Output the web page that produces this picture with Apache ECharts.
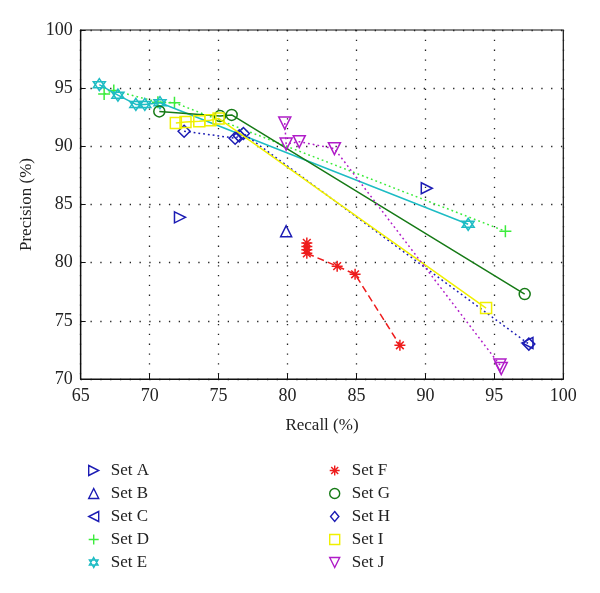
<!DOCTYPE html>
<html>
<head>
<meta charset="utf-8">
<script src="https://cdn.jsdelivr.net/npm/echarts@6/dist/echarts.min.js"></script>
<style>html,body{margin:0;padding:0;background:#fff}#c{width:600px;height:593px}</style>
</head>
<body>
<div id="c"></div>
<script>
// Data: [recall, precision]
var setA = [[72.2, 83.9], [90.1, 86.4]];
var setB = [[79.9, 82.7]];
var setC = [[97.4, 73.1]];
var setD = [[66.7, 94.5], [67.4, 94.8], [70.6, 93.8], [71.8, 93.75], [95.8, 82.7]];
var setE = [[66.35, 95.3], [67.7, 94.4], [69.0, 93.6], [69.65, 93.6], [70.75, 93.75], [93.1, 83.3]];
var setF = [[81.4, 81.7], [81.4, 81.4], [81.4, 81.1], [81.4, 80.8], [83.6, 79.7], [84.9, 79.0], [88.15, 72.9]];
var setG = [[70.7, 93.0], [75.1, 92.6], [75.95, 92.7], [97.2, 77.3]];
var setH = [[72.5, 91.3], [76.2, 90.7], [76.5, 90.9], [76.8, 91.1], [97.5, 73.0]];
var setI = [[71.9, 92.0], [72.6, 92.1], [73.6, 92.15], [74.4, 92.25], [75.0, 92.4], [94.4, 76.1]];
var setJ = [[79.8, 92.0], [79.9, 90.2], [80.85, 90.4], [83.4, 89.8], [95.4, 71.2], [95.5, 70.9]];
var names = ['Set A','Set B','Set C','Set D','Set E','Set F','Set G','Set H','Set I','Set J'];
var xTicks = [65, 70, 75, 80, 85, 90, 95, 100];
var yTicks = [70, 75, 80, 85, 90, 95, 100];

var blue = '#1c1cb4', green = '#3cec3c', cyan = '#1ebcc4', red = '#ee1c1c', dgreen = '#167a16', yellow = '#f0f000', purple = '#b01cc8';
var sym = {
  right: 'path://M0,0L10,5L0,10Z',
  up: 'path://M5,0L10,10L0,10Z',
  left: 'path://M10,0L0,5L10,10Z',
  down: 'path://M0,0L10,0L5,10Z',
  plus: 'path://M5,0L5,10M0,5L10,5',
  star: 'path://M5,0L9.33,7.5L0.67,7.5Z M5,10L0.67,2.5L9.33,2.5Z',
  ast: 'path://M5,0L5,10M0,5L10,5M1.5,1.5L8.5,8.5M1.5,8.5L8.5,1.5',
  diamond: 'path://M5,0L10,6L5,12L0,6Z',
  square: 'path://M0,0L10,0L10,10L0,10Z',
  circle: 'circle'
};
var defs = [
  {d: setA, c: blue, s: sym.right, size: 11, line: null},
  {d: setB, c: blue, s: sym.up, size: 11, line: null},
  {d: setC, c: blue, s: sym.left, size: 11, line: null},
  {d: setD, c: green, s: sym.plus, size: 12, line: [1.8, 3]},
  {d: setE, c: cyan, s: sym.star, size: 12, line: 'solid'},
  {d: setF, c: red, s: sym.ast, size: 11, line: [7, 4]},
  {d: setG, c: dgreen, s: sym.circle, size: 11, line: 'solid'},
  {d: setH, c: blue, s: sym.diamond, size: 12, line: [1.8, 3]},
  {d: setI, c: yellow, s: sym.square, size: 11, line: 'solid'},
  {d: setJ, c: purple, s: sym.down, size: 12, line: [1.8, 3]}
];
var series = defs.map(function (o, i) {
  return {
    name: names[i], type: 'line', data: o.d, symbol: o.s, symbolSize: o.size,
    showSymbol: true, animation: false,
    itemStyle: {color: 'transparent', borderColor: o.c, borderWidth: 1.5},
    lineStyle: o.line ? {color: o.c, width: 1.5, type: o.line} : {opacity: 0, width: 0},
    z: 2 + i
  };
});
function legendData(from, to) {
  var arr = [];
  for (var i = from; i < to; i++) {
    arr.push({name: names[i], icon: defs[i].s,
      itemStyle: {color: 'transparent', borderColor: defs[i].c, borderWidth: 1.4}});
  }
  return arr;
}
var fontFam = '"Liberation Serif", "DejaVu Serif", serif';
var legendCommon = {
  orient: 'vertical', top: 457, itemWidth: 10, itemHeight: 10, itemGap: 6,
  selectedMode: false,
  textStyle: {fontFamily: fontFam, fontSize: 17, color: '#222', lineHeight: 17, padding: [0, 0, 0, 7]}
};
var chart = echarts.init(document.getElementById('c'), null, {renderer: 'canvas'});
chart.setOption({
  animation: false,
  backgroundColor: '#fff',
  grid: {left: 80.7, right: 36.7, top: 30, bottom: 214, show: true, borderColor: '#111', borderWidth: 1.2, backgroundColor: 'transparent'},
  legend: [
    Object.assign({left: 83, data: legendData(0, 5)}, legendCommon),
    Object.assign({left: 324, data: legendData(5, 10)}, legendCommon)
  ],
  xAxis: {
    type: 'value', min: xTicks[0], max: xTicks[xTicks.length - 1], interval: 5,
    name: 'Recall (%)', nameLocation: 'middle', nameGap: 38,
    nameTextStyle: {fontFamily: fontFam, fontSize: 17, color: '#222'},
    axisLine: {show: true, onZero: false, lineStyle: {color: '#111', width: 1.2}},
    axisTick: {show: true, inside: true, length: 5, lineStyle: {color: '#111'}},
    axisLabel: {margin: 8, fontFamily: fontFam, fontSize: 18, color: '#222'},
    splitLine: {show: true, lineStyle: {color: '#222', width: 1.3, type: [1.3, 8.5]}}
  },
  yAxis: {
    type: 'value', min: yTicks[0], max: yTicks[yTicks.length - 1], interval: 5,
    name: 'Precision (%)', nameLocation: 'middle', nameGap: 40,
    nameTextStyle: {fontFamily: fontFam, fontSize: 17, color: '#222'},
    axisLine: {show: true, onZero: false, lineStyle: {color: '#111', width: 1.2}},
    axisTick: {show: true, inside: true, length: 5, lineStyle: {color: '#111'}},
    axisLabel: {margin: 8, fontFamily: fontFam, fontSize: 18, color: '#222'},
    splitLine: {show: true, lineStyle: {color: '#222', width: 1.3, type: [1.3, 8.5]}}
  },
  series: series
});
</script>
</body>
</html>
